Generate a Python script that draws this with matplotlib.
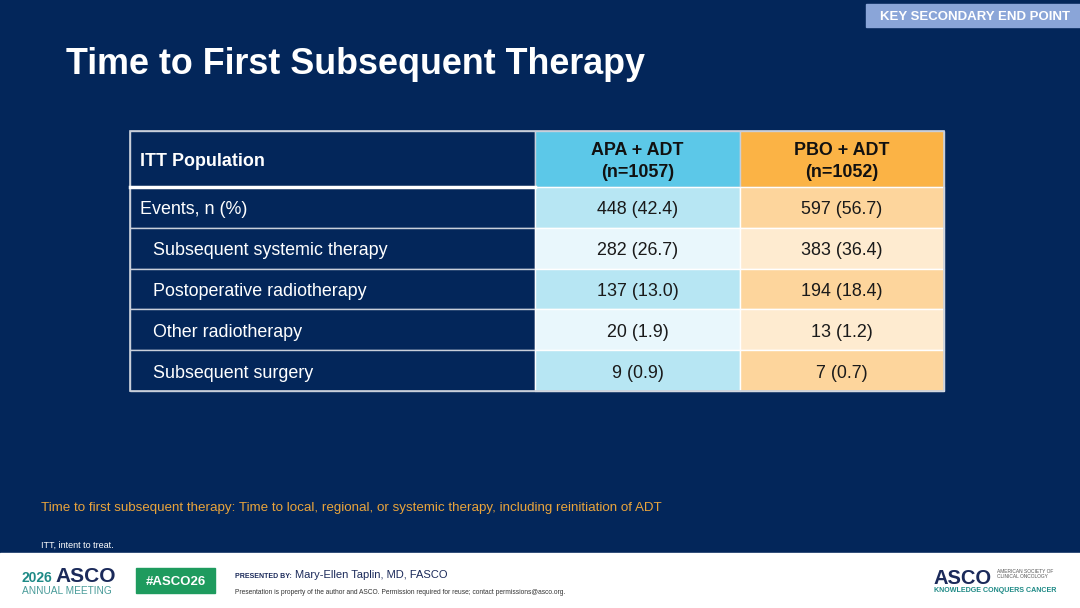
import matplotlib
matplotlib.use("Agg")
import matplotlib.pyplot as plt
from matplotlib.patches import Rectangle

plt.rcParams['font.family'] = ['Liberation Sans', 'DejaVu Sans']

# --- data ---
TITLE = "Time to First Subsequent Therapy"
HEADER_LABEL = "ITT Population"
ARMS = ["APA + ADT\n(n=1057)", "PBO + ADT\n(n=1052)"]
ROW_LABELS = ["Events, n (%)", "Subsequent systemic therapy",
              "Postoperative radiotherapy", "Other radiotherapy",
              "Subsequent surgery"]
ROW_INDENT = [False, True, True, True, True]
APA_VALUES = ["448 (42.4)", "282 (26.7)", "137 (13.0)", "20 (1.9)", "9 (0.9)"]
PBO_VALUES = ["597 (56.7)", "383 (36.4)", "194 (18.4)", "13 (1.2)", "7 (0.7)"]

NAVY = "#03265A"
APA_HEAD, PBO_HEAD = "#5CC8E8", "#FBB345"
APA_ROWS = ["#B7E6F3", "#E9F7FC"]
PBO_ROWS = ["#FDD59C", "#FEEBD0"]
GRID = "#C9CFDA"
DY = 2.5  # vertical nudge so text sits like the slide

W, H = 1080, 608
fig = plt.figure(figsize=(W / 100, H / 100), dpi=100)
ax = fig.add_axes([0, 0, 1, 1])
ax.set_xlim(0, W)
ax.set_ylim(H, 0)
ax.axis('off')

# background + footer band
ax.add_patch(Rectangle((0, 0), W, 553, color=NAVY, zorder=0))
ax.add_patch(Rectangle((0, 553), W, H - 553, color="white", zorder=0))

# badge
ax.add_patch(Rectangle((866, 4), 214, 23, color="#8AA5D8", zorder=1))
ax.text(975, 15 + DY, "KEY SECONDARY END POINT", color="white", fontsize=9.5,
        fontweight='bold', ha='center', va='center')

ax.text(66, 61.5 + DY, TITLE, color="white", fontsize=25.8, fontweight='bold',
        ha='left', va='center')

# --- table ---
col_x = [130, 535, 740, 944]
head_top, head_bot = 131, 187
row_h = (391 - head_bot) / len(ROW_LABELS)
FS = 12.9

ax.add_patch(Rectangle((col_x[0], head_top), col_x[1] - col_x[0],
                       head_bot - head_top, facecolor=NAVY, edgecolor=GRID, lw=1))
ax.add_patch(Rectangle((col_x[1], head_top), col_x[2] - col_x[1],
                       head_bot - head_top, facecolor=APA_HEAD, edgecolor=GRID, lw=1))
ax.add_patch(Rectangle((col_x[2], head_top), col_x[3] - col_x[2],
                       head_bot - head_top, facecolor=PBO_HEAD, edgecolor=GRID, lw=1))
ax.text(col_x[0] + 10, (head_top + head_bot) / 2 + DY, HEADER_LABEL, color="white",
        fontsize=FS, fontweight='bold', ha='left', va='center')
for i, arm in enumerate(ARMS):
    ax.text((col_x[i + 1] + col_x[i + 2]) / 2, (head_top + head_bot) / 2 + DY, arm,
            color="#111111", fontsize=FS, fontweight='bold', ha='center',
            va='center', linespacing=1.45)

for r, label in enumerate(ROW_LABELS):
    y0 = head_bot + r * row_h
    yc = y0 + row_h / 2 + DY
    shade = r % 2
    ax.add_patch(Rectangle((col_x[0], y0), col_x[1] - col_x[0], row_h,
                           facecolor=NAVY, edgecolor=GRID, lw=1))
    ax.add_patch(Rectangle((col_x[1], y0), col_x[2] - col_x[1], row_h,
                           facecolor=APA_ROWS[shade], edgecolor="white", lw=1))
    ax.add_patch(Rectangle((col_x[2], y0), col_x[3] - col_x[2], row_h,
                           facecolor=PBO_ROWS[shade], edgecolor="white", lw=1))
    ax.text(col_x[0] + (23 if ROW_INDENT[r] else 10), yc, label, color="white",
            fontsize=FS, ha='left', va='center')
    ax.text((col_x[1] + col_x[2]) / 2, yc, APA_VALUES[r], color="#1a1a1a",
            fontsize=FS, ha='center', va='center')
    ax.text((col_x[2] + col_x[3]) / 2, yc, PBO_VALUES[r], color="#1a1a1a",
            fontsize=FS, ha='center', va='center')

# header separator line (thicker white)
ax.plot([col_x[0], col_x[1]], [head_bot, head_bot], color="white", lw=2.5)
# outer border
ax.add_patch(Rectangle((col_x[0], head_top), col_x[3] - col_x[0], 391 - head_top,
                       fill=False, edgecolor=GRID, lw=1.2))

# footnotes
ax.text(41, 506 + DY, "Time to first subsequent therapy: Time to local, regional, or systemic therapy, "
        "including reinitiation of ADT", color="#E9A43C", fontsize=9.67,
        ha='left', va='center')
ax.text(41, 544 + 1, "ITT, intent to treat.", color="white", fontsize=6.5,
        ha='left', va='center')

# --- footer ---
ax.text(22, 578, "2026", color="#1E8A86", fontsize=10, fontweight='bold',
        ha='left', va='center')
ax.text(55, 577, "ASCO", color="#1B2A5A", fontsize=15, fontweight='bold',
        ha='left', va='center')
ax.text(22, 591, "ANNUAL MEETING", color="#4A9C9A", fontsize=7.3,
        ha='left', va='center')
ax.add_patch(Rectangle((136, 568), 79, 25, color="#1E9B5E", zorder=2))
ax.text(175.5, 582, "#ASCO26", color="white", fontsize=9.5, fontweight='bold',
        ha='center', va='center', zorder=3)
ax.text(235, 576, "PRESENTED BY:", color="#1B2A5A", fontsize=5, fontweight='bold',
        ha='left', va='center')
ax.text(295, 575, "Mary-Ellen Taplin, MD, FASCO", color="#1B2A5A", fontsize=8,
        ha='left', va='center')
ax.text(235, 592, "Presentation is property of the author and ASCO. Permission required for reuse; "
        "contact permissions@asco.org.", color="#333333", fontsize=4.8,
        ha='left', va='center')

ax.text(934, 578, "ASCO", color="#1B2A5A", fontsize=14.5, fontweight='bold',
        ha='left', va='center')
ax.text(997, 574, "AMERICAN SOCIETY OF\nCLINICAL ONCOLOGY", color="#555555",
        fontsize=3.5, ha='left', va='center', linespacing=1.2)
ax.text(934, 591, "KNOWLEDGE CONQUERS CANCER", color="#1E8A86", fontsize=5.15,
        fontweight='bold', ha='left', va='center')

fig.savefig("out.png", dpi=100, facecolor=NAVY)
